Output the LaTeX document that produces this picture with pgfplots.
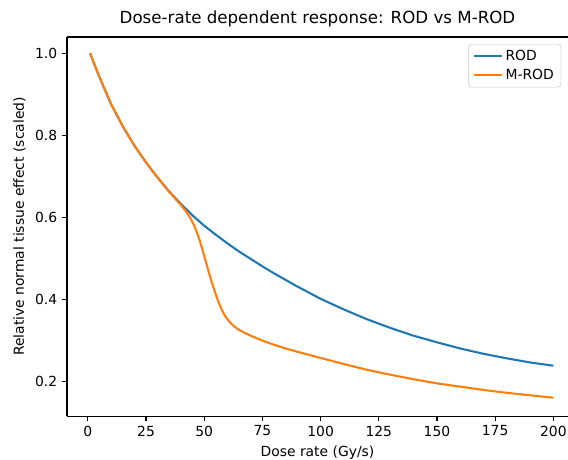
\documentclass[border=0pt]{standalone}
\usepackage{fontspec}
\setmainfont{DejaVu Sans}
\usepackage{pgfplots}
\pgfplotsset{compat=1.18}
\definecolor{c0}{HTML}{1F77B4}
\definecolor{c1}{HTML}{FF7F0E}
\begin{document}
\fontsize{10}{12}\selectfont
\begin{tikzpicture}
\begin{axis}[
  width=360.7pt, height=272.9pt, scale only axis,
  xmin=-8.95, xmax=206.3, ymin=0.1164, ymax=1.0397,
  axis y line*=left,
  xtick pos=bottom, ytick pos=left,
  xtick={0,25,50,75,100,125,150,175,200},
  ytick={0.2,0.4,0.6,0.8,1.0},
  yticklabel style={/pgf/number format/.cd, fixed, fixed zerofill, precision=1},
  /pgf/number format/assume math mode=true,
  tick align=outside, major tick length=3.5pt,
  tick style={black, line width=0.8pt},
  axis line style={line width=0.8pt},
  ticklabel style={font=\fontsize{10}{12}\selectfont},
  xlabel={Dose rate (Gy/s)},
  ylabel={Relative normal tissue effect (scaled)},
  label style={font=\fontsize{10}{12}\selectfont},
  title={Dose-rate dependent response: ROD vs M-ROD},
  title style={font=\fontsize{12}{14}\selectfont, yshift=-2pt},
  legend style={at={(axis description cs:1,1)}, anchor=north east, xshift=-5pt, yshift=-5pt,
    draw=black!20, rounded corners=2pt, font=\fontsize{10}{12}\selectfont,
    inner xsep=3pt, inner ysep=2pt, row sep=1pt},
  legend cell align=left,
  legend image code/.code={\draw[#1] (0pt,0pt) -- (20pt,0pt);},
]
\addplot[c0, line width=1.5pt, line join=round] coordinates {
(1,1.000) (3,0.970) (5,0.942) (7,0.915) (10,0.876) (15,0.822) (20,0.775) (25,0.734) (30,0.697)
(35,0.663) (40,0.633) (45,0.605) (50,0.580) (55,0.558) (60,0.537) (65,0.517) (70,0.499) (75,0.481) (80,0.464)
(90,0.432) (100,0.402) (110,0.376) (120,0.352) (130,0.331) (140,0.312)
(150,0.296) (160,0.281) (170,0.268) (180,0.257) (190,0.247) (200,0.239)
};
\addlegendentry{ROD}
\addplot[c1, line width=1.5pt, line join=round] coordinates {
(1,1.000) (3,0.970) (5,0.942) (7,0.915) (10,0.876) (15,0.822) (20,0.775) (25,0.734) (30,0.697)
(35,0.662) (38,0.643) (40,0.630) (42,0.616) (43,0.608) (44,0.599) (45,0.588) (46,0.576) (47,0.561) (48,0.545)
(49,0.526) (50,0.506) (51,0.486) (52,0.466) (53,0.447) (54,0.429) (55,0.412) (56,0.396) (57,0.382) (58,0.370)
(59,0.360) (60,0.352) (61,0.345) (62,0.339) (63,0.334) (65,0.326) (67,0.320) (70,0.312) (75,0.300) (80,0.290)
(85,0.281) (90,0.273) (100,0.258) (110,0.243)
(120,0.229) (130,0.217) (140,0.206) (150,0.196) (160,0.188) (170,0.180)
(180,0.173) (190,0.167) (200,0.161)
};
\addlegendentry{M-ROD}
\end{axis}
\pgfresetboundingbox
\path (current axis.south west) ++(-48.24pt,-30.96pt) coordinate (bl);
\path (current axis.north east) ++(0pt,26.64pt) coordinate (tr);
\useasboundingbox (bl) rectangle (tr);
\end{tikzpicture}
\end{document}
